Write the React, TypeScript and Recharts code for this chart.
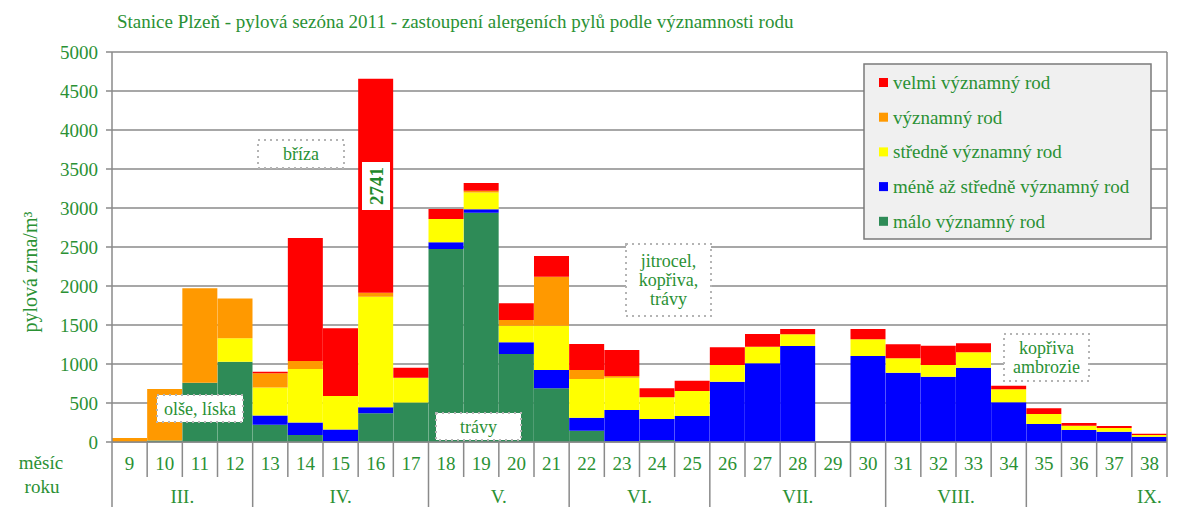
import { BarChart, Bar, XAxis, YAxis, CartesianGrid } from "recharts";

const weeks = [9, 10, 11, 12, 13, 14, 15, 16, 17, 18, 19, 20, 21, 22, 23, 24, 25, 26, 27, 28, 29, 30, 31, 32, 33, 34, 35, 36, 37, 38];

// stacked bottom -> top
const malo = [0, 20, 760, 1030, 220, 90, 10, 368, 505, 2474, 2940, 1128, 688, 145, 10, 25, 0, 0, 0, 0, 0, 0, 0, 0, 0, 0, 0, 0, 0, 0];
const meneAzStredne = [0, 0, 0, 0, 120, 160, 150, 77, 0, 86, 45, 150, 235, 167, 400, 270, 333, 773, 1009, 1231, 0, 1103, 889, 838, 953, 509, 231, 154, 132, 68];
const stredne = [0, 0, 0, 300, 360, 685, 430, 1418, 320, 300, 215, 213, 568, 496, 415, 278, 321, 214, 213, 149, 0, 213, 184, 149, 197, 166, 128, 55, 47, 22];
const vyznamny = [50, 660, 1210, 510, 180, 105, 0, 52, 0, 0, 20, 73, 629, 115, 20, 0, 0, 0, 0, 0, 0, 0, 0, 0, 0, 0, 0, 0, 0, 0];
const velmi = [0, 0, 0, 0, 20, 1575, 867, 2741, 128, 128, 100, 214, 265, 333, 335, 115, 132, 227, 163, 69, 0, 133, 179, 248, 115, 47, 73, 35, 26, 16];

const monthLabels = ["III.", "IV.", "V.", "VI.", "VII.", "VIII.", "IX."];
const monthFirstWeek = [9, 13, 18, 22, 26, 31, 35];
const monthLabelAt = [10.5, 15, 19.5, 23.5, 28, 32.5, 38];

const yTicks = [0, 500, 1000, 1500, 2000, 2500, 3000, 3500, 4000, 4500, 5000];

const series = [
  { key: "malo", name: "málo významný rod", color: "#2e8b57" },
  { key: "meneAzStredne", name: "méně až středně významný rod", color: "#0000ff" },
  { key: "stredne", name: "středně významný rod", color: "#ffff00" },
  { key: "vyznamny", name: "významný rod", color: "#ff9900" },
  { key: "velmi", name: "velmi významný rod", color: "#ff0000" },
];

const data = weeks.map((week, i) => ({
  week,
  malo: malo[i],
  meneAzStredne: meneAzStredne[i],
  stredne: stredne[i],
  vyznamny: vyznamny[i],
  velmi: velmi[i],
}));

const W = 1200;
const H = 507;
const LEFT = 112;
const RIGHT = 1167;
const TOP = 52;
const BOTTOM = 442;
const BAND = (RIGHT - LEFT) / weeks.length;
const GRID = "#8a8a8a";
const TEXT = "#2a9134";
const FONT = "Liberation Serif, DejaVu Serif, serif";

function WeekTick(props: any) {
  const { x, payload, index } = props;
  const week = payload.value;
  const mi = monthFirstWeek.indexOf(week);
  const left = x - BAND / 2;
  return (
    <g>
      <line x1={left} x2={left} y1={BOTTOM} y2={mi >= 0 ? H : 477} stroke={GRID} strokeWidth={1.5} />
      {index === weeks.length - 1 && (
        <line x1={x + BAND / 2} x2={x + BAND / 2} y1={TOP} y2={477} stroke={GRID} strokeWidth={1.5} />
      )}
      <text x={x} y={463} textAnchor="middle" dominantBaseline="central" fill={TEXT} fontSize={19} fontFamily={FONT}>
        {week}
      </text>
      {mi >= 0 && (
        <text
          x={x + (monthLabelAt[mi] - week) * BAND}
          y={496}
          textAnchor="middle"
          dominantBaseline="central"
          fill={TEXT}
          fontSize={19}
          fontFamily={FONT}
        >
          {monthLabels[mi]}
        </text>
      )}
    </g>
  );
}

function Note({ x, y, w, h, lines, fill = "#fff" }: any) {
  const step = 19;
  const cy = y + h / 2 - ((lines.length - 1) * step) / 2;
  return (
    <g>
      <rect x={x} y={y} width={w} height={h} fill={fill} stroke="#b4b4b4" strokeWidth={2} strokeDasharray="2 4" />
      {lines.map((t: string, i: number) => (
        <text key={i} x={x + w / 2} y={cy + i * step} textAnchor="middle" dominantBaseline="central" fill={TEXT} fontSize={18}>
          {t}
        </text>
      ))}
    </g>
  );
}

export default function App() {
  const legendOrder = [...series].reverse();
  return (
    <div style={{ position: "absolute", left: 0, top: 0, width: W, height: H, background: "#fff", fontFamily: FONT }}>
      <BarChart
        width={W}
        height={H}
        data={data}
        barCategoryGap={0}
        barGap={0}
        style={{ fontFamily: FONT }}
        margin={{ top: TOP, right: W - RIGHT, left: LEFT - 60, bottom: 0 }}
      >
        <CartesianGrid vertical={false} stroke={GRID} strokeWidth={1.5} />
        <XAxis
          dataKey="week"
          interval={0}
          height={H - BOTTOM}
          tickLine={false}
          axisLine={{ stroke: GRID, strokeWidth: 1.5 }}
          tick={(p: any) => <WeekTick {...p} />}
        />
        <YAxis
          width={60}
          domain={[0, 5000]}
          ticks={yTicks}
          interval={0}
          tickSize={6}
          tickMargin={8}
          axisLine={{ stroke: GRID, strokeWidth: 1.5 }}
          tickLine={{ stroke: GRID, strokeWidth: 1.5 }}
          tick={{ fill: TEXT, fontSize: 19, fontFamily: FONT }}
        />
        {series.map((s) => (
          <Bar key={s.key} dataKey={s.key} name={s.name} stackId="a" fill={s.color} isAnimationActive={false} />
        ))}
      </BarChart>

      <svg
        width={W}
        height={H}
        fontFamily={FONT}
        style={{ position: "absolute", left: 0, top: 0, pointerEvents: "none", fontFamily: FONT }}
      >
        <text x={117} y={21} dominantBaseline="central" fill={TEXT} fontSize={19}>
          Stanice Plzeň - pylová sezóna 2011 - zastoupení alergeních pylů podle významnosti rodu
        </text>
        <text
          x={30}
          y={272}
          transform="rotate(-90 30 272)"
          textAnchor="middle"
          dominantBaseline="central"
          fill={TEXT}
          fontSize={20}
        >
          pylová zrna/m³
        </text>
        <text x={41} y={462} textAnchor="middle" dominantBaseline="central" fill={TEXT} fontSize={19}>
          měsíc
        </text>
        <text x={42} y={486} textAnchor="middle" dominantBaseline="central" fill={TEXT} fontSize={19}>
          roku
        </text>

        <Note x={258} y={140} w={86} h={28} lines={["bříza"]} />
        <Note x={157} y={395} w={86} h={27} lines={["olše, líska"]} />
        <Note x={436} y={413} w={85} h={27} lines={["trávy"]} />
        <Note x={626} y={244} w={85} h={72} lines={["jitrocel,", "kopřiva,", "trávy"]} />
        <Note x={1004} y={334} w={85} h={47} lines={["kopřiva", "ambrozie"]} />

        <rect x={362} y={162} width={28} height={48} fill="#fff" />
        <text
          x={376}
          y={186}
          transform="rotate(-90 376 186)"
          textAnchor="middle"
          dominantBaseline="central"
          fill="#1f8a2a"
          fontSize={19}
          fontWeight="bold"
        >
          2741
        </text>

        <rect x={864} y={64} width={287} height={175} fill="#f0f0f0" stroke="#7a7a7a" strokeWidth={1.5} />
        {legendOrder.map((s, i) => (
          <g key={s.key}>
            <rect x={879} y={78 + i * 34.7} width={9} height={9} fill={s.color} />
            <text x={893} y={82.5 + i * 34.7} dominantBaseline="central" fill={TEXT} fontSize={19}>
              {s.name}
            </text>
          </g>
        ))}
      </svg>
    </div>
  );
}
